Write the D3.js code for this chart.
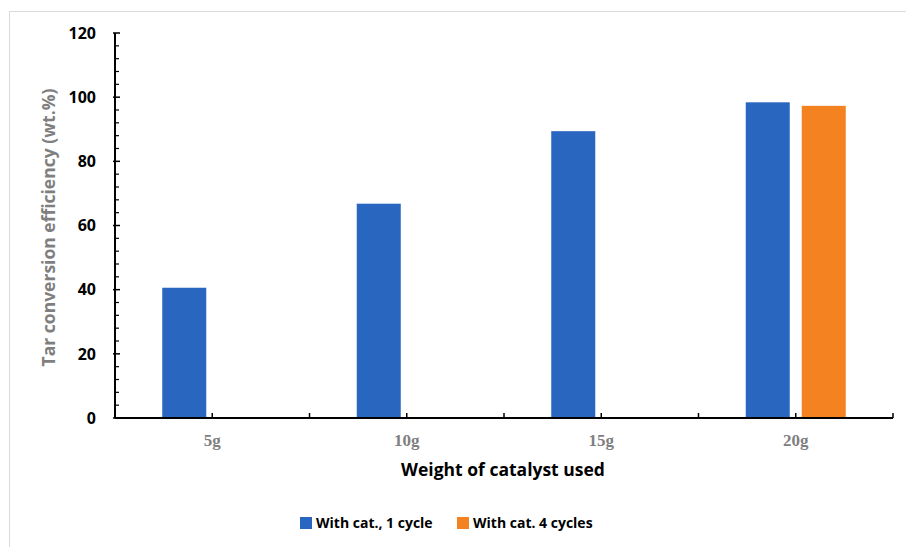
<!DOCTYPE html>
<html lang="en">
<head>
    <meta charset="utf-8">
    <style>
        body {
            margin: 0;
            padding: 0;
            background: #fff;
        }
        .frame {
            fill: none;
            stroke: #d9d9d9;
        }
        .ylab {
            font-family: "Open Sans", "Noto Sans", sans-serif;
            font-weight: bold;
            font-size: 16px;
            fill: #000;
        }
        .xlab {
            font-family: "Liberation Serif", serif;
            font-weight: bold;
            font-size: 17px;
            fill: #7f7f7f;
        }
        .title {
            font-family: "Open Sans", "Noto Sans", sans-serif;
            font-weight: bold;
            font-size: 17.5px;
        }
        .legend {
            font-family: "Open Sans", "Noto Sans", sans-serif;
            font-weight: bold;
            font-size: 14px;
            fill: #000;
        }
    </style>
</head>
<body>

<script src="https://cdn.jsdelivr.net/npm/d3@7"></script>
<script>
(function() {
    var width = 906;
    var height = 547;

    // data
    var categories = ['5g', '10g', '15g', '20g'];
    var seriesNames = ['With cat., 1 cycle', 'With cat. 4 cycles'];
    var oneCycle = [40.6, 66.8, 89.4, 98.4];
    var fourCycles = [null, null, null, 97.3];
    var colors = ['#2966c0', '#f58220'];
    var yTicks = [0, 20, 40, 60, 80, 100, 120];

    var left = 115, right = 893, top = 33, bottom = 418;

    var svg = d3.select('body')
        .append('svg')
        .attr('width', width)
        .attr('height', height);

    // light frame round the chart area
    svg.append('rect')
        .attr('class', 'frame')
        .attr('x', 9.5)
        .attr('y', 11.5)
        .attr('width', width + 20)
        .attr('height', height + 20);

    var x = d3.scaleBand()
        .domain(categories)
        .range([left, right]);

    var sub = d3.scaleBand()
        .domain([0, 1])
        .range([x.bandwidth() / 2 - 50, x.bandwidth() / 2 + 50])
        .paddingInner(0.214);

    var y = d3.scaleLinear()
        .domain([0, 120])
        .range([bottom, top]);

    var g = svg.append('g');

    // bars
    var series = [oneCycle, fourCycles];
    series.forEach(function (vals, s) {
        g.selectAll('rect.s' + s)
            .data(vals.map(function (v, i) { return { c: categories[i], v: v }; })
                .filter(function (d) { return d.v != null; }))
            .enter()
            .append('rect')
            .attr('class', 's' + s)
            .attr('x', function (d) { return x(d.c) + sub(s); })
            .attr('width', sub.bandwidth())
            .attr('y', function (d) { return y(d.v); })
            .attr('height', function (d) { return bottom - y(d.v); })
            .style('fill', colors[s]);
    });

    // y axis with minor ticks every 4
    var minor = d3.range(0, 121, 4).filter(function (v) { return v % 20 !== 0; });
    g.selectAll('line.minor')
        .data(minor)
        .enter()
        .append('line')
        .attr('x1', left).attr('x2', left + 4)
        .attr('y1', function (d) { return y(d); })
        .attr('y2', function (d) { return y(d); })
        .style('stroke', '#000').style('stroke-width', 1.2);
    g.selectAll('line.major')
        .data(yTicks)
        .enter()
        .append('line')
        .attr('x1', left - 2).attr('x2', left + 5)
        .attr('y1', function (d) { return y(d); })
        .attr('y2', function (d) { return y(d); })
        .style('stroke', '#000').style('stroke-width', 1.5);
    g.append('line')
        .attr('x1', left).attr('x2', left)
        .attr('y1', y(120)).attr('y2', bottom)
        .style('stroke', '#000').style('stroke-width', 2);
    g.selectAll('text.ylab')
        .data(yTicks)
        .enter()
        .append('text')
        .attr('class', 'ylab')
        .attr('x', 96)
        .attr('y', function (d) { return y(d); })
        .attr('dy', '0.36em')
        .attr('text-anchor', 'end')
        .text(function (d) { return d; });

    // x axis, ticks at band edges and centres
    var xTicks = [];
    categories.forEach(function (c) {
        xTicks.push(x(c), x(c) + x.bandwidth() / 2);
    });
    xTicks.push(right);
    g.selectAll('line.xt')
        .data(xTicks)
        .enter()
        .append('line')
        .attr('x1', function (d) { return d; })
        .attr('x2', function (d) { return d; })
        .attr('y1', bottom).attr('y2', bottom - 5)
        .style('stroke', '#000').style('stroke-width', 1.5);
    g.append('line')
        .attr('x1', left).attr('x2', right)
        .attr('y1', bottom).attr('y2', bottom)
        .style('stroke', '#000').style('stroke-width', 2);
    g.selectAll('text.xlab')
        .data(categories)
        .enter()
        .append('text')
        .attr('class', 'xlab')
        .attr('x', function (d) { return x(d) + x.bandwidth() / 2; })
        .attr('y', 446)
        .attr('text-anchor', 'middle')
        .text(function (d) { return d; });

    // axis titles
    svg.append('text')
        .attr('class', 'title')
        .attr('x', 503)
        .attr('y', 476)
        .attr('text-anchor', 'middle')
        .style('fill', '#000')
        .text('Weight of catalyst used');
    svg.append('text')
        .attr('class', 'title')
        .attr('transform', 'translate(55,' + ((top + bottom) / 2 + 2) + ') rotate(-90)')
        .attr('text-anchor', 'middle')
        .style('fill', '#7f7f7f')
        .text('Tar conversion efficiency (wt.%)');

    // legend
    var legendX = [300, 457];
    var lg = svg.selectAll('g.leg')
        .data(seriesNames)
        .enter()
        .append('g')
        .attr('transform', function (d, i) { return 'translate(' + legendX[i] + ',523)'; });
    lg.append('rect')
        .attr('x', 0).attr('y', -6)
        .attr('width', 12).attr('height', 12)
        .style('fill', function (d, i) { return colors[i]; });
    lg.append('text')
        .attr('class', 'legend')
        .attr('x', 16)
        .attr('dy', '0.36em')
        .text(function (d) { return d; });
})();
</script>

</body>
</html>
